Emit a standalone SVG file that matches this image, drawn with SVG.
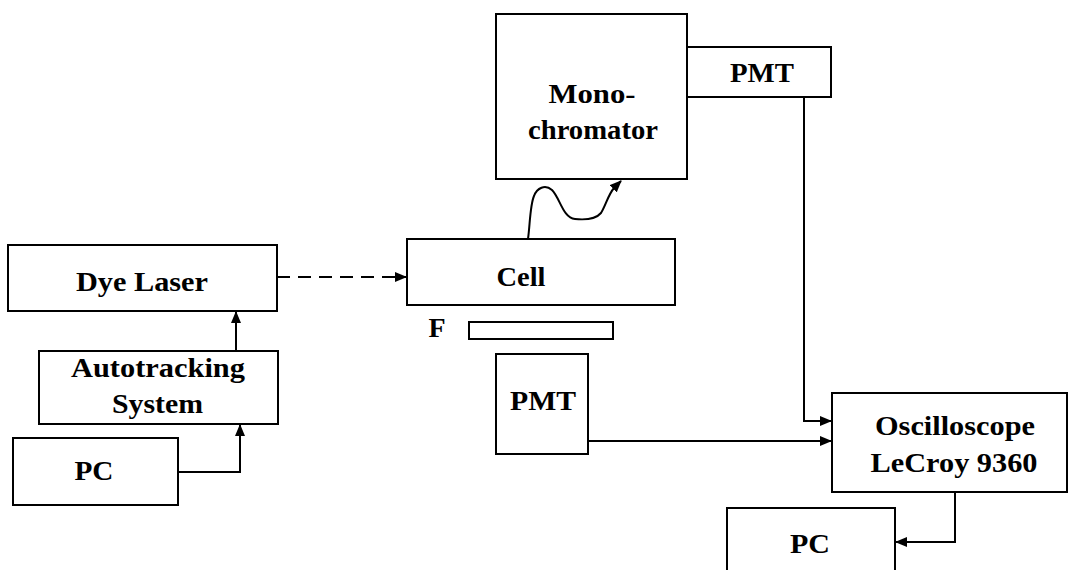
<svg xmlns="http://www.w3.org/2000/svg" width="1069" height="570" viewBox="0 0 1069 570">
<style>
.box{fill:#fff;stroke:#000;stroke-width:2}
.lbl{font-family:"Liberation Serif","Times New Roman",serif;font-weight:bold;font-size:28px;fill:#000;text-anchor:middle}
.wire{fill:none;stroke:#000;stroke-width:2}
</style>
<defs>
<marker id="arr" markerUnits="userSpaceOnUse" markerWidth="12" markerHeight="10" refX="11" refY="5" orient="auto">
<path d="M0,0 L12,5 L0,10 Z" fill="#000"/>
</marker>
</defs>
<rect width="1069" height="570" fill="#fff"/>
<g id="connectors">
<path class="wire" d="M277,277 H406" stroke-dasharray="13 8" marker-end="url(#arr)"/>
<path class="wire" d="M236,351 V312" marker-end="url(#arr)"/>
<path class="wire" d="M178,472 H240 V425" marker-end="url(#arr)"/>
<path class="wire" d="M528,239 C530,225 530,205 534,196 C537,188 545,184 552,190 C560,198 563,218 575,219 C585,220 595,220 601,213 C606,205 608,195 614,188 L621,181" marker-end="url(#arr)"/>
<path class="wire" d="M804,97 V421 H831" marker-end="url(#arr)"/>
<path class="wire" d="M588,441 H831" marker-end="url(#arr)"/>
<path class="wire" d="M955,492 V542 H896" marker-end="url(#arr)"/>
</g>
<g id="dye-laser">
<rect class="box" x="8" y="245" width="269" height="66"/>
<text class="lbl" x="142" y="291" textLength="132" lengthAdjust="spacingAndGlyphs">Dye Laser</text>
</g>
<g id="autotracking">
<rect class="box" x="39" y="351" width="239" height="73"/>
<text class="lbl" x="158" y="377" textLength="174" lengthAdjust="spacingAndGlyphs">Autotracking</text>
<text class="lbl" x="157.5" y="413" textLength="91" lengthAdjust="spacingAndGlyphs">System</text>
</g>
<g id="pc-left">
<rect class="box" x="13" y="438" width="165" height="67"/>
<text class="lbl" x="94" y="480" textLength="39" lengthAdjust="spacingAndGlyphs">PC</text>
</g>
<g id="monochromator">
<rect class="box" x="496" y="14" width="191" height="165"/>
<text class="lbl" x="592" y="103" textLength="87" lengthAdjust="spacingAndGlyphs">Mono-</text>
<text class="lbl" x="593" y="139" textLength="130" lengthAdjust="spacingAndGlyphs">chromator</text>
</g>
<g id="pmt-top">
<rect class="box" x="687" y="47" width="144" height="50"/>
<text class="lbl" x="762" y="82" textLength="64" lengthAdjust="spacingAndGlyphs">PMT</text>
</g>
<g id="cell">
<rect class="box" x="407" y="239" width="268" height="66"/>
<text class="lbl" x="521" y="286" textLength="49" lengthAdjust="spacingAndGlyphs">Cell</text>
</g>
<g id="filter">
<text class="lbl" x="437" y="337">F</text>
<rect class="box" x="469" y="322" width="144" height="17"/>
</g>
<g id="pmt-bottom">
<rect class="box" x="496" y="354" width="92" height="100"/>
<text class="lbl" x="543" y="410" textLength="66" lengthAdjust="spacingAndGlyphs">PMT</text>
</g>
<g id="oscilloscope">
<rect class="box" x="832" y="393" width="235" height="99"/>
<text class="lbl" x="955" y="435" textLength="160" lengthAdjust="spacingAndGlyphs">Oscilloscope</text>
<text class="lbl" x="954" y="472" textLength="167" lengthAdjust="spacingAndGlyphs">LeCroy 9360</text>
</g>
<g id="pc-right">
<rect class="box" x="727" y="508" width="168" height="70"/>
<text class="lbl" x="810" y="553" textLength="40" lengthAdjust="spacingAndGlyphs">PC</text>
</g>
</svg>
